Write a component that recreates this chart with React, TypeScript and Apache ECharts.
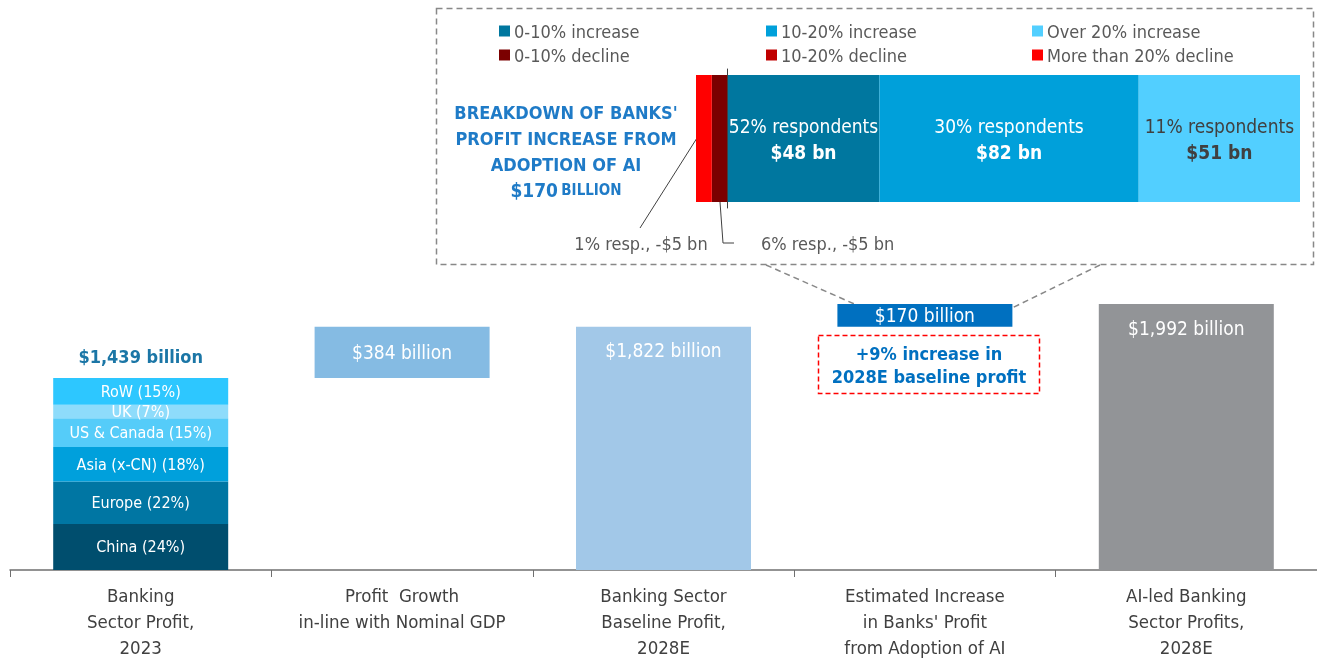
import React, { useEffect, useRef } from "react";
import * as echarts from "echarts";

const FONT = "'Liberation Sans Narrow', 'DejaVu Sans Condensed', 'Roboto', sans-serif";

const categories = [
  "Banking\nSector Profit,\n2023",
  "Profit  Growth\nin-line with Nominal GDP",
  "Banking Sector\nBaseline Profit,\n2028E",
  "Estimated Increase\nin Banks' Profit\nfrom Adoption of AI",
  "AI-led Banking\nSector Profits,\n2028E",
];

const regionNames = ["China (24%)", "Europe (22%)", "Asia (x-CN) (18%)", "US & Canada (15%)", "UK (7%)", "RoW (15%)"];
const regionValues = [345, 317, 259, 216, 101, 201];
const regionColors = ["#004E6E", "#0076A3", "#00A0DC", "#55CCF9", "#8EDCFB", "#2DC7FF"];
const totalLabel2023 = "$1,439 billion";

const waterfallBase = [0, 1439, 0, 1822, 0];
const waterfallValues = [0, 384, 1822, 170, 1992];
const waterfallLabels = ["", "$384 billion", "$1,822 billion", "$170 billion", "$1,992 billion"];
const waterfallColors = ["#000000", "#85BBE3", "#A2C8E8", "#0070C0", "#929497"];

const breakdownNames = ["0-10% increase", "0-10% decline", "10-20% increase", "10-20% decline", "Over 20% increase", "More than 20% decline"];
const breakdownValues = [48, -5, 82, 0, 51, -5];
const breakdownColors = ["#00779F", "#7B0000", "#00A0DA", "#C00000", "#52CFFF", "#FF0000"];
const breakdownLabels = ["52% respondents", "", "30% respondents", "", "11% respondents", ""];
const breakdownAmounts = ["$48 bn", "", "$82 bn", "", "$51 bn", ""];

export default function App() {
  const ref = useRef<HTMLDivElement>(null);
  useEffect(() => {
    const chart = echarts.init(ref.current!, null, { renderer: "svg" });
    const stackSeries: any[] = [];
    stackSeries.push({
      name: "base",
      type: "bar",
      stack: "w",
      barWidth: 175,
      xAxisIndex: 0,
      yAxisIndex: 0,
      itemStyle: { color: "transparent" },
      data: waterfallBase.map((v) => (v === 0 ? "-" : v)),
      silent: true,
    });
    regionNames.forEach((n, i) => {
      stackSeries.push({
        name: n,
        type: "bar",
        stack: "w",
        barWidth: 175,
        xAxisIndex: 0,
        yAxisIndex: 0,
        itemStyle: { color: regionColors[i] },
        label: { show: true, position: "inside", formatter: n, color: "#ffffff", fontSize: 16, fontFamily: FONT },
        data: [regionValues[i], "-", "-", "-", "-"],
      });
    });
    stackSeries.push({
      name: "total2023",
      type: "bar",
      stack: "w",
      barWidth: 175,
      xAxisIndex: 0,
      yAxisIndex: 0,
      itemStyle: { color: "transparent" },
      label: { show: true, position: "top", distance: 12, formatter: totalLabel2023, color: "#1B76A6", fontSize: 18, fontWeight: "bold", fontFamily: FONT },
      data: [0, "-", "-", "-", "-"],
    });
    stackSeries.push({
      name: "waterfall",
      type: "bar",
      stack: "w",
      barWidth: 175,
      xAxisIndex: 0,
      yAxisIndex: 0,
      data: waterfallValues.map((v, i) =>
        i === 0
          ? "-"
          : {
              value: v,
              itemStyle: { color: waterfallColors[i] },
              label: {
                show: true,
                position: i === 2 || i === 4 ? "insideTop" : "inside",
                distance: 14,
                formatter: waterfallLabels[i],
                color: "#ffffff",
                fontSize: 19,
                fontFamily: FONT,
              },
            }
      ),
    });

    const breakdownSeries = breakdownNames.map((n, i) => ({
      name: n,
      type: "bar",
      stack: "b",
      barWidth: 127,
      xAxisIndex: 1,
      yAxisIndex: 1,
      itemStyle: { color: breakdownColors[i] },
      label: {
        show: breakdownLabels[i] !== "",
        position: "inside",
        formatter: `{a|${breakdownLabels[i]}}\n{b|${breakdownAmounts[i]}}`,
        rich: {
          a: { fontSize: 19, color: i === 4 ? "#404040" : "#ffffff", fontFamily: FONT, lineHeight: 26 },
          b: { fontSize: 19, fontWeight: "bold", color: i === 4 ? "#404040" : "#ffffff", fontFamily: FONT, lineHeight: 26 },
        },
      },
      data: [breakdownValues[i] === 0 ? "-" : breakdownValues[i]],
    }));

    const legendCol = (names: string[], left: number) => ({
      data: names,
      left,
      top: 20,
      padding: 0,
      orient: "vertical",
      itemWidth: 11,
      itemHeight: 11,
      itemGap: 2,
      icon: "rect",
      selectedMode: false,
      textStyle: { color: "#595959", fontSize: 18, lineHeight: 22, fontFamily: FONT, padding: [0, 0, 0, -1] },
    });

    chart.setOption({
      animation: false,
      textStyle: { fontFamily: FONT },
      legend: [
        legendCol(["0-10% increase", "0-10% decline"], 499),
        legendCol(["10-20% increase", "10-20% decline"], 766),
        legendCol(["Over 20% increase", "More than 20% decline"], 1032),
      ],
      grid: [
        { left: 10, width: 1310, top: 303, height: 267 },
        { left: 696, width: 604, top: 69, height: 139 },
      ],
      xAxis: [
        {
          type: "category",
          gridIndex: 0,
          data: categories,
          axisLine: { lineStyle: { color: "#6F6F6F", width: 1.5 } },
          axisTick: { show: true, length: 7, lineStyle: { color: "#6F6F6F" } },
          axisLabel: { color: "#404040", fontSize: 18.5, lineHeight: 26, margin: 12, fontFamily: FONT, interval: 0 },
        },
        {
          type: "value",
          gridIndex: 1,
          min: -10,
          max: 181,
          show: false,
        },
      ],
      yAxis: [
        { type: "value", gridIndex: 0, min: 0, max: 2000, show: false },
        {
          type: "category",
          gridIndex: 1,
          data: ["AI"],
          axisLine: { show: true, onZero: true, lineStyle: { color: "#404040", width: 1 } },
          axisTick: { show: false },
          axisLabel: { show: false },
          z: 10,
        },
      ],
      series: [...stackSeries, ...breakdownSeries],
      graphic: [
        {
          type: "rect",
          shape: { x: 436.5, y: 8.5, width: 877, height: 256 },
          style: { fill: "none", stroke: "#888888", lineWidth: 1.5, lineDash: [6, 4] },
          z: 0,
        },
        {
          type: "line",
          shape: { x1: 766, y1: 265, x2: 868, y2: 310 },
          style: { stroke: "#888888", lineWidth: 1.5, lineDash: [6, 4] },
          z: 0,
        },
        {
          type: "line",
          shape: { x1: 1100, y1: 265, x2: 1012, y2: 308 },
          style: { stroke: "#888888", lineWidth: 1.5, lineDash: [6, 4] },
          z: 0,
        },
        {
          type: "rect",
          shape: { x: 818.5, y: 335.5, width: 221, height: 58 },
          style: { fill: "none", stroke: "#FF0000", lineWidth: 1.5, lineDash: [5, 3] },
        },
        {
          type: "text",
          x: 929,
          y: 365,
          style: {
            text: "+9% increase in\n2028E baseline profit",
            fill: "#0070C0",
            fontSize: 18,
            lineHeight: 23,
            fontFamily: FONT,
            fontWeight: "bold",
            align: "center",
            verticalAlign: "middle",
          },
        },
        {
          type: "text",
          x: 566,
          y: 151,
          style: {
            text: "{t|BREAKDOWN OF BANKS'}\n{t|PROFIT INCREASE FROM}\n{t|ADOPTION OF AI}\n{n|$170} {s|BILLION}",
            align: "center",
            verticalAlign: "middle",
            rich: {
              t: { fontSize: 18, fontWeight: "bold", fill: "#1F7BC7", fontFamily: FONT, lineHeight: 26 },
              n: { fontSize: 19, fontWeight: "bold", fill: "#1F7BC7", fontFamily: FONT, lineHeight: 26 },
              s: { fontSize: 15, fontWeight: "bold", fill: "#1F7BC7", fontFamily: FONT, lineHeight: 26 },
            },
          },
        },
        {
          type: "polyline",
          shape: { points: [[640, 228], [697, 138]] },
          style: { stroke: "#404040", lineWidth: 1, fill: "none" },
        },
        {
          type: "polyline",
          shape: { points: [[720, 202], [723, 243], [734, 243]] },
          style: { stroke: "#404040", lineWidth: 1, fill: "none" },
        },
        {
          type: "text",
          x: 641,
          y: 243,
          style: { text: "1% resp., -$5 bn", fill: "#595959", fontSize: 18, fontFamily: FONT, align: "center", verticalAlign: "middle" },
        },
        {
          type: "text",
          x: 761,
          y: 243,
          style: { text: "6% resp., -$5 bn", fill: "#595959", fontSize: 18, fontFamily: FONT, align: "left", verticalAlign: "middle" },
        },
      ],
    });
    return () => chart.dispose();
  }, []);
  return <div ref={ref} style={{ position: "fixed", left: 0, top: 0, width: 1317, height: 662 }} />;
}
